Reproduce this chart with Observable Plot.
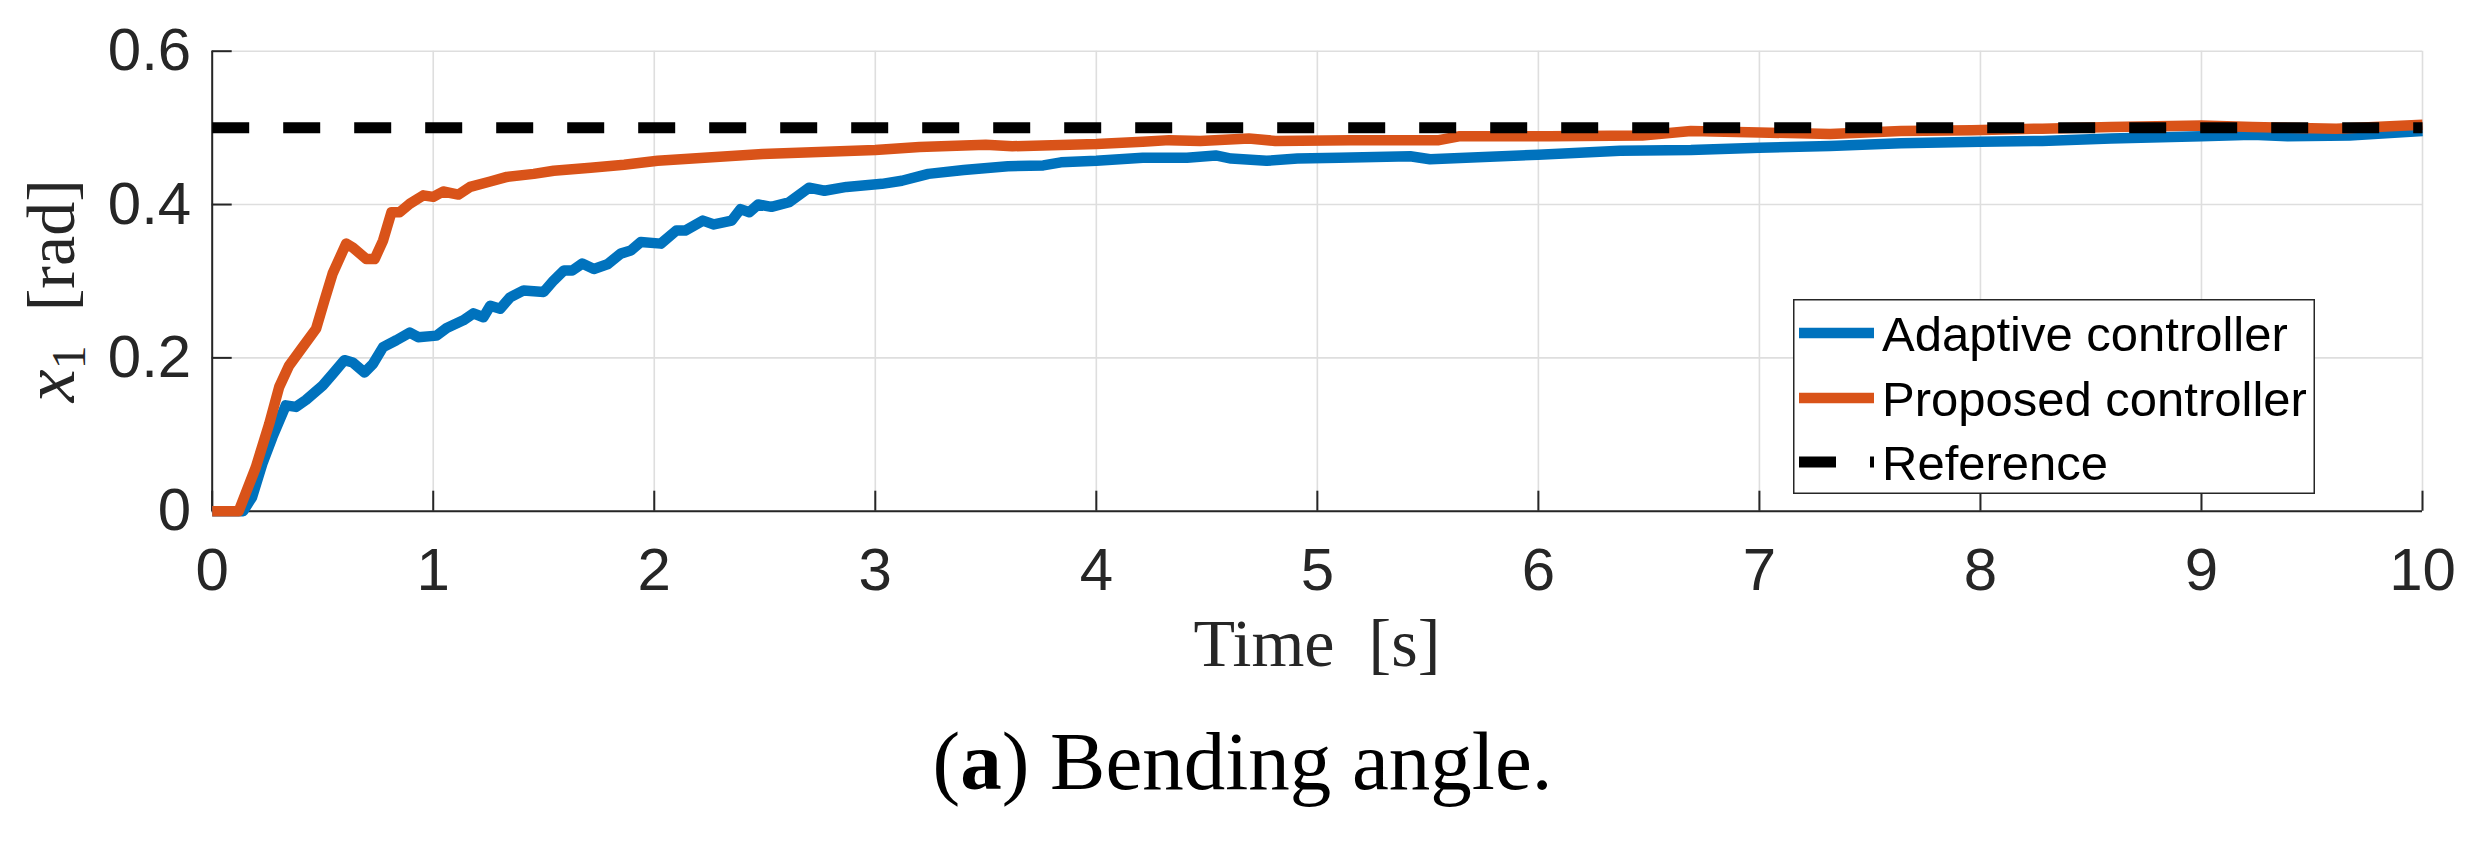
<!DOCTYPE html>
<html>
<head>
<meta charset="utf-8">
<script src="https://cdn.jsdelivr.net/npm/d3@7"></script>
<script src="https://cdn.jsdelivr.net/npm/@observablehq/plot@0.6"></script>
<style>
  html, body { margin: 0; padding: 0; background: #fff; }
  #wrap { position: relative; width: 2485px; height: 845px; overflow: hidden; background: #fff; }
  #chart { position: absolute; left: 0; top: 0; }
  #legend { position: absolute; left: 1793px; top: 299px; }
  #caption { position: absolute; left: 0; top: 720px; width: 2485px; text-align: center;
             font-family: "Liberation Serif", "Times New Roman", serif; font-size: 83px; line-height: 1; color: #000; }
</style>
</head>
<body>
<div id="wrap">
  <div id="chart"></div>
  <div id="legend"></div>
  <div id="caption">(<b>a</b>) Bending angle.</div>
</div>
<script>
// ---- data ----
const adaptiveT = [0, 0.14, 0.18, 0.227, 0.273, 0.333, 0.379, 0.424, 0.5, 0.545, 0.598, 0.636, 0.689, 0.727, 0.773, 0.833, 0.894, 0.932, 1.015, 1.061, 1.136, 1.182, 1.227, 1.258, 1.303, 1.348, 1.409, 1.455, 1.5, 1.545, 1.591, 1.629, 1.674, 1.727, 1.788, 1.848, 1.894, 1.939, 2.03, 2.1, 2.14, 2.22, 2.27, 2.35, 2.39, 2.43, 2.47, 2.53, 2.61, 2.7, 2.77, 2.87, 3.03, 3.12, 3.24, 3.4, 3.6, 3.76, 3.84, 4.0, 4.21, 4.41, 4.54, 4.61, 4.77, 4.91, 5.1, 5.42, 5.51, 6.0, 6.37, 6.69, 7.0, 7.32, 7.64, 8.0, 8.28, 8.59, 9.0, 9.23, 9.39, 9.67, 10];
const adaptiveV = [0, 0, 0.018, 0.062, 0.097, 0.138, 0.136, 0.145, 0.164, 0.179, 0.197, 0.194, 0.181, 0.192, 0.214, 0.223, 0.233, 0.227, 0.229, 0.239, 0.249, 0.258, 0.253, 0.268, 0.264, 0.279, 0.288, 0.287, 0.286, 0.301, 0.314, 0.314, 0.323, 0.316, 0.322, 0.336, 0.34, 0.351, 0.349, 0.366, 0.366, 0.379, 0.374, 0.379, 0.394, 0.39, 0.4, 0.397, 0.403, 0.422, 0.418, 0.423, 0.427, 0.431, 0.44, 0.445, 0.45, 0.451, 0.455, 0.457, 0.461, 0.461, 0.464, 0.46, 0.457, 0.46, 0.461, 0.463, 0.459, 0.465, 0.47, 0.471, 0.474, 0.4765, 0.48, 0.482, 0.483, 0.486, 0.489, 0.491, 0.489, 0.49, 0.496];

const proposedT = [0, 0.12, 0.197, 0.258, 0.303, 0.348, 0.409, 0.47, 0.508, 0.545, 0.606, 0.636, 0.697, 0.735, 0.773, 0.811, 0.848, 0.894, 0.955, 1.0, 1.045, 1.114, 1.167, 1.258, 1.333, 1.455, 1.545, 1.712, 1.864, 2.015, 2.49, 3.0, 3.2, 3.5, 3.62, 4.0, 4.21, 4.33, 4.47, 4.69, 4.81, 5.15, 5.55, 5.64, 6.05, 6.47, 6.69, 7.0, 7.32, 7.64, 7.96, 8.28, 8.59, 9.0, 9.23, 9.61, 10];
const proposedV = [0, 0, 0.057, 0.114, 0.162, 0.19, 0.214, 0.238, 0.275, 0.31, 0.349, 0.344, 0.329, 0.329, 0.353, 0.39, 0.39, 0.401, 0.412, 0.41, 0.417, 0.413, 0.423, 0.43, 0.436, 0.44, 0.444, 0.448, 0.452, 0.457, 0.466, 0.471, 0.475, 0.478, 0.476, 0.479, 0.482, 0.484, 0.483, 0.486, 0.483, 0.484, 0.484, 0.489, 0.489, 0.49, 0.496, 0.494, 0.492, 0.496, 0.497, 0.499, 0.501, 0.503, 0.501, 0.499, 0.504];

const referenceT = [0, 10];
const referenceV = [0.5, 0.5];

const xTicks = [0, 1, 2, 3, 4, 5, 6, 7, 8, 9, 10];
const yTicks = [0, 0.2, 0.4, 0.6];
const yTickLabels = ["0", "0.2", "0.4", "0.6"];

const seriesNames = ["Adaptive controller", "Proposed controller", "Reference"];
const seriesColors = ["#0072BD", "#D95319", "#000000"];

// ---- build tables ----
const toRows = (ts, vs) => ts.map((t, i) => ({t, v: vs[i]}));
const adaptive = toRows(adaptiveT, adaptiveV);
const proposed = toRows(proposedT, proposedV);
const reference = toRows(referenceT, referenceV);

// ---- layout ----
const W = 2485, H = 700;
const mL = 211.7, mR = 63, mT = 50.7, plotBottom = 510.7;
const mB = H - plotBottom;
const plotW = W - mL - mR, plotH = plotBottom - mT;
const axisColor = "#262626";
const gridColor = "#dedede";
const lineW = 10.5;
const dash = "37,34";

const chart = Plot.plot({
  width: W, height: H,
  marginLeft: mL, marginRight: mR, marginTop: mT, marginBottom: mB,
  style: {fontFamily: "'Liberation Sans', Arial, Helvetica, sans-serif", fontSize: "60px", color: axisColor, background: "white"},
  x: {domain: [0, 10], ticks: xTicks},
  y: {domain: [0, 0.6], ticks: yTicks},
  marks: [
    Plot.gridX(xTicks, {stroke: gridColor, strokeOpacity: 1, strokeWidth: 1.6}),
    Plot.gridY(yTicks, {stroke: gridColor, strokeOpacity: 1, strokeWidth: 1.6}),
    Plot.ruleX([0], {stroke: axisColor, strokeWidth: 2}),
    Plot.ruleY([0], {stroke: axisColor, strokeWidth: 2}),
    Plot.ruleX(xTicks, {x: d => d, insetTop: plotH - 20, stroke: axisColor, strokeWidth: 2}),
    Plot.ruleY(yTicks, {y: d => d, insetRight: plotW - 20, stroke: axisColor, strokeWidth: 2}),
    Plot.line(adaptive, {x: "t", y: "v", stroke: seriesColors[0], strokeWidth: lineW, strokeLinejoin: "round", strokeLinecap: "butt"}),
    Plot.line(proposed, {x: "t", y: "v", stroke: seriesColors[1], strokeWidth: lineW, strokeLinejoin: "round", strokeLinecap: "butt"}),
    Plot.line(reference, {x: "t", y: "v", stroke: seriesColors[2], strokeWidth: 11, strokeDasharray: dash, strokeLinecap: "butt"}),
    Plot.axisX(xTicks, {tickSize: 0, tickPadding: 36, tickFormat: d => String(d), label: null, fill: axisColor}),
    Plot.axisY(yTicks, {tickSize: 0, tickPadding: 21, tickFormat: d => yTickLabels[yTicks.indexOf(d)], label: null, fill: axisColor})
  ]
});
document.getElementById("chart").appendChild(chart);

// ---- axis titles ----
const xs = chart.scale("x"), ys = chart.scale("y");
const svg = d3.select(chart);
const serif = "'Liberation Serif', 'Times New Roman', serif";
svg.append("text")
  .attr("x", (xs.apply(0) + xs.apply(10)) / 2)
  .attr("y", 666)
  .attr("text-anchor", "middle")
  .attr("font-family", serif)
  .attr("font-size", 68)
  .attr("fill", axisColor)
  .text("Time\u2002[s]");

const cy = (ys.apply(0) + ys.apply(0.6)) / 2 + 10;
const yl = svg.append("text")
  .attr("transform", `translate(74, ${cy}) rotate(-90)`)
  .attr("text-anchor", "middle")
  .attr("font-family", serif)
  .attr("font-size", 68)
  .attr("fill", axisColor);
yl.append("tspan").attr("font-style", "italic").attr("font-size", 74).text("x");
yl.append("tspan").attr("font-size", 48).attr("dy", 11).text("1");
yl.append("tspan").attr("dy", -11).text("\u2002[rad]");

// ---- legend ----
const LW = 522, LH = 195;
const lg = d3.select("#legend").append("svg").attr("width", LW).attr("height", LH);
lg.append("rect").attr("x", 0.75).attr("y", 0.75).attr("width", LW - 1.5).attr("height", LH - 1.5)
  .attr("fill", "white").attr("stroke", axisColor).attr("stroke-width", 1.5);
const rowY = [34, 99, 163];
seriesNames.forEach((name, i) => {
  const ln = lg.append("line").attr("x1", 6).attr("x2", 81).attr("y1", rowY[i]).attr("y2", rowY[i])
    .attr("stroke", seriesColors[i]).attr("stroke-width", i === 2 ? 11 : lineW);
  if (i === 2) ln.attr("stroke-dasharray", dash);
  lg.append("text").attr("x", 89).attr("y", rowY[i] + 17.5)
    .attr("font-family", "'Liberation Sans', Arial, Helvetica, sans-serif")
    .attr("font-size", 49).attr("fill", "#000").text(name);
});
</script>
</body>
</html>
